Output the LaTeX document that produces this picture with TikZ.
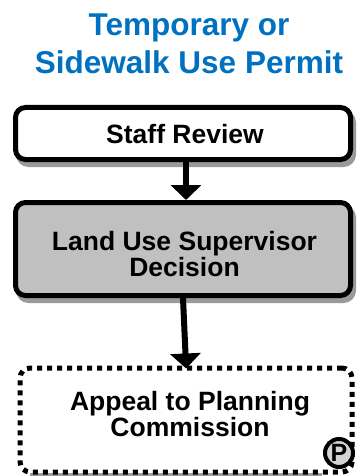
\documentclass[tikz,border=0pt]{standalone}
\usepackage{fontspec}
\setmainfont{Liberation Sans}
\usetikzlibrary{arrows.meta,shadows}
\definecolor{titleblue}{HTML}{0070C0}
\definecolor{boxgray}{HTML}{C0C0C0}
\definecolor{shadowgray}{HTML}{9A9A9A}
\definecolor{pgray}{HTML}{D4D4D4}
\begin{document}
\begin{tikzpicture}[x=1pt,y=-1pt,
  boxshadow/.style={drop shadow={shadow xshift=3pt, shadow yshift=-5pt, fill=shadowgray, draw=shadowgray, line width=5pt, opacity=1}},
  stepbox/.style={draw=black, fill=white, line width=5pt, rounded corners=10pt, minimum width=335pt, inner sep=0pt, boxshadow},
  dotbox/.style={draw=black, line width=5pt, dash pattern=on 5pt off 5pt, rounded corners=10pt, minimum width=332pt, minimum height=104pt, inner sep=0pt},
  boxtext/.style={font=\fontsize{26.5}{26}\selectfont\bfseries, align=center, inner sep=0pt},
  titletext/.style={font=\fontsize{31.5}{38}\selectfont\bfseries, text=titleblue, align=center, inner sep=0pt, anchor=north},
  flow/.style={line width=6pt, -{Triangle[width=30pt,length=15pt]}},
  pmark/.style={circle, draw=black, line width=4pt, fill=pgray, minimum size=28pt, inner sep=0pt, font=\fontsize{25}{25}\selectfont\bfseries}
]
\useasboundingbox (0,0) rectangle (356,476);

\node[titletext] (title) at (189,13.4) {Temporary or\\Sidewalk Use Permit};

\node[stepbox, minimum height=52pt] (staff) at (183,133.5) {};
\node[boxtext, anchor=base] (stafftxt) at (185,143) {Staff Review};

\node[stepbox, fill=boxgray, minimum height=93pt] (lus) at (183,249) {};
\node[boxtext, anchor=north] (lustxt) at (184.5,231) {Land Use Supervisor\\Decision};

\draw[shadowgray, line width=3pt] (30,474) -- (322,474);
\node[dotbox, fill=white] (appeal) at (186,420) {};
\node[boxtext, anchor=north] (appealtxt) at (190,391) {Appeal to Planning\\Commission};

\node[pmark] (p) at (339,453) {P};

\draw[flow] ([xshift=3pt]staff.south) -- ([xshift=3pt]lus.north);
\draw[flow, shorten >=-3pt] (lus.south) -- (appeal.north);
\end{tikzpicture}
\end{document}
